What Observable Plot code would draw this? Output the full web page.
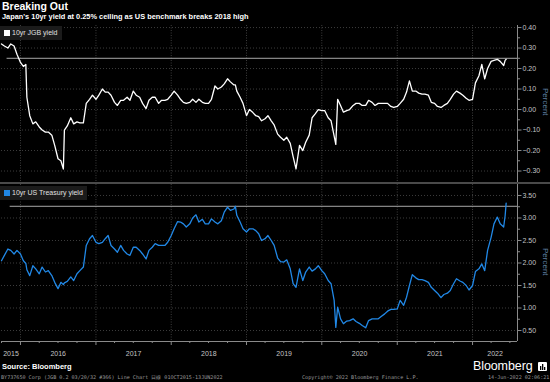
<!DOCTYPE html>
<html>
<head>
<meta charset="utf-8">
<script src="https://cdn.jsdelivr.net/npm/d3@7"></script>
<script src="https://cdn.jsdelivr.net/npm/@observablehq/plot@0.6"></script>
<style>
  html, body { margin:0; padding:0; background:#000; }
  #wrap { position:relative; width:550px; height:382px; background:#000; overflow:hidden; font-family:"Liberation Sans", Arial, sans-serif; }
  .abs { position:absolute; white-space:nowrap; }
  .title { left:2px; top:0px; font-weight:bold; font-size:10.5px; color:#fff; }
  .subtitle { left:2px; top:11.5px; font-weight:bold; font-size:7.4px; color:#fff; }
  .legend { background:#1b1b1b; color:#e0e0e0; font-size:7px; height:14px; line-height:14px; padding-left:12px; padding-right:4px; }
  .legend .sw { position:absolute; left:4px; top:4px; width:6px; height:6px; }
  .percent { writing-mode:vertical-rl; font-size:8px; color:#5f7fa0; }
  .sep { left:0; top:182px; width:550px; height:2px; background:#4a4a4a; }
  .source { left:2px; top:362px; font-weight:bold; font-size:7.5px; color:#fff; }
  .logo { left:473px; top:359px; font-size:12.5px; color:#fff; letter-spacing:-0.1px; }
  .fine { top:374px; font-family:"DejaVu Sans Mono", monospace; font-size:5.1px; color:#9a9a9a; }
</style>
</head>
<body>
<div id="wrap">
  <div class="abs title">Breaking Out</div>
  <div class="abs subtitle">Japan's 10yr yield at 0.25% ceiling as US benchmark breaks 2018 high</div>
  <div id="top" class="abs" style="left:0;top:25px;"></div>
  <div class="abs sep"></div>
  <div id="bottom" class="abs" style="left:0;top:184px;"></div>
  <div class="abs legend" style="left:0;top:26px;"><span class="sw" style="background:#fff"></span>10yr JGB yield</div>
  <div class="abs legend" style="left:0;top:186px;"><span class="sw" style="background:#2188e6"></span>10yr US Treasury yield</div>
  <div class="abs percent" style="left:541px;top:88px;">Percent</div>
  <div class="abs percent" style="left:541px;top:248px;">Percent</div>
  <div class="abs source">Source: Bloomberg</div>
  <div class="abs logo">Bloomberg</div>
  <svg class="abs" style="left:538px;top:362px;" width="9" height="9"><rect width="9" height="9" rx="1" fill="#fff"/><rect x="2" y="4" width="1.3" height="4" fill="#000"/><rect x="4" y="2" width="1.3" height="6" fill="#000"/><rect x="6" y="5" width="1.3" height="3" fill="#000"/></svg>
  <div class="abs fine" style="left:1px;">BY737650 Corp (JGB 0.2 03/20/32 #366) Line Chart  日線 01OCT2015-13JUN2022</div>
  <div class="abs fine" style="left:302px;">Copyright© 2022 Bloomberg Finance L.P.</div>
  <div class="abs fine" style="left:488px;">14-Jun-2022 02:06:21</div>
</div>
<script>
// ---- Data ----
const dates = [
"2015-10-01","2015-10-15","2015-11-01","2015-11-15","2015-12-01","2015-12-15",
"2016-01-01","2016-01-15","2016-01-27","2016-02-01","2016-02-15","2016-03-01","2016-03-15","2016-04-01","2016-04-15","2016-05-01","2016-05-15","2016-06-01","2016-06-15","2016-07-01","2016-07-15","2016-07-27","2016-08-01","2016-08-15","2016-09-01","2016-09-15","2016-10-01","2016-10-15","2016-11-01","2016-11-15","2016-12-01","2016-12-15",
"2017-01-01","2017-01-15","2017-02-01","2017-02-15","2017-03-01","2017-03-15","2017-04-01","2017-04-15","2017-05-01","2017-05-15","2017-06-01","2017-06-15","2017-07-01","2017-07-15","2017-08-01","2017-08-15","2017-09-01","2017-09-15","2017-10-01","2017-10-15","2017-11-01","2017-11-15","2017-12-01","2017-12-15",
"2018-01-01","2018-01-15","2018-02-01","2018-02-15","2018-03-01","2018-03-15","2018-04-01","2018-04-15","2018-05-01","2018-05-15","2018-06-01","2018-06-15","2018-07-01","2018-07-15","2018-08-01","2018-08-15","2018-09-01","2018-09-15","2018-10-01","2018-10-15","2018-11-01","2018-11-08","2018-11-15","2018-12-01","2018-12-15",
"2019-01-01","2019-01-15","2019-02-01","2019-02-15","2019-03-01","2019-03-15","2019-04-01","2019-04-15","2019-05-01","2019-05-15","2019-06-01","2019-06-15","2019-07-01","2019-07-15","2019-08-01","2019-08-15","2019-08-29","2019-09-15","2019-10-01","2019-10-15","2019-11-01","2019-11-15","2019-12-01","2019-12-15",
"2020-01-01","2020-01-15","2020-02-01","2020-02-15","2020-03-01","2020-03-09","2020-03-18","2020-04-01","2020-04-15","2020-05-01","2020-05-15","2020-06-01","2020-06-15","2020-07-01","2020-07-15","2020-08-01","2020-08-15","2020-09-01","2020-09-15","2020-10-01","2020-10-15","2020-11-01","2020-11-15","2020-12-01","2020-12-15",
"2021-01-01","2021-01-15","2021-02-01","2021-02-15","2021-03-01","2021-03-15","2021-04-01","2021-04-15","2021-05-01","2021-05-15","2021-06-01","2021-06-15","2021-07-01","2021-07-15","2021-08-01","2021-08-15","2021-09-01","2021-09-15","2021-10-01","2021-10-15","2021-11-01","2021-11-15","2021-12-01","2021-12-15",
"2022-01-01","2022-01-15","2022-02-01","2022-02-15","2022-03-01","2022-03-15","2022-04-01","2022-04-15","2022-05-01","2022-05-15","2022-06-01","2022-06-08","2022-06-13"
];
const jgbYield = [
0.32,0.31,0.30,0.32,0.31,0.27,
0.23,0.21,0.22,0.06,-0.03,-0.07,-0.06,-0.085,-0.10,-0.11,-0.11,-0.125,-0.175,-0.24,-0.25,-0.29,-0.10,-0.08,-0.04,-0.07,-0.06,-0.065,-0.065,0.03,0.05,0.07,
0.05,0.07,0.10,0.085,0.085,0.07,0.035,0.02,0.045,0.045,0.06,0.045,0.09,0.07,0.06,0.03,0.005,0.045,0.06,0.06,0.03,0.045,0.045,0.05,
0.07,0.09,0.07,0.05,0.035,0.03,0.035,0.05,0.035,0.05,0.035,0.03,0.03,0.05,0.115,0.10,0.11,0.125,0.15,0.135,0.12,0.12,0.09,0.06,0.03,
-0.03,0.00,-0.015,-0.03,-0.035,-0.055,-0.045,-0.03,-0.055,-0.075,-0.12,-0.135,-0.15,-0.135,-0.165,-0.23,-0.29,-0.175,-0.20,-0.16,-0.125,-0.04,-0.02,0.00,
-0.005,-0.005,-0.04,-0.055,-0.13,-0.17,0.05,0.02,-0.013,-0.005,0.00,0.02,0.03,0.03,0.02,0.02,0.045,0.035,0.02,0.03,0.03,0.03,0.03,0.015,0.01,
0.015,0.03,0.05,0.085,0.14,0.09,0.09,0.08,0.075,0.075,0.07,0.035,0.03,0.015,0.01,0.02,0.03,0.05,0.075,0.09,0.08,0.07,0.055,0.045,
0.05,0.13,0.165,0.22,0.15,0.20,0.235,0.24,0.245,0.235,0.215,0.24,0.245
];
const ustYield = [
2.05,2.17,2.31,2.28,2.20,2.28,
2.20,2.05,1.99,1.85,1.72,1.94,1.87,1.76,1.91,1.80,1.83,1.72,1.57,1.43,1.57,1.52,1.56,1.59,1.69,1.61,1.76,1.83,1.91,2.39,2.54,2.61,
2.46,2.43,2.46,2.54,2.61,2.39,2.31,2.24,2.39,2.28,2.20,2.17,2.35,2.35,2.28,2.20,2.09,2.28,2.35,2.43,2.39,2.39,2.39,2.46,
2.61,2.76,2.92,2.91,2.87,2.80,2.87,3.00,3.07,2.91,2.97,2.87,2.87,2.98,2.91,2.87,2.94,3.13,3.24,3.17,3.20,3.26,3.06,2.91,2.76,
2.69,2.76,2.76,2.72,2.65,2.50,2.54,2.61,2.50,2.39,2.11,2.03,2.02,2.07,1.87,1.54,1.46,1.87,1.61,1.80,1.91,1.82,1.87,1.94,
1.83,1.76,1.61,1.54,1.17,0.57,1.02,0.76,0.65,0.71,0.72,0.76,0.70,0.66,0.61,0.56,0.72,0.76,0.76,0.76,0.81,0.87,0.93,0.97,0.97,
0.98,1.17,1.06,1.24,1.50,1.74,1.67,1.63,1.63,1.61,1.57,1.46,1.39,1.33,1.23,1.30,1.33,1.39,1.54,1.65,1.60,1.57,1.50,1.40,
1.50,1.81,1.87,1.98,1.83,2.28,2.57,2.87,3.02,2.87,2.80,3.05,3.33
];
const jgbTicks = [-0.3,-0.2,-0.1,0,0.1,0.2,0.3,0.4];
const ustTicks = [0.5,1,1.5,2,2.5,3,3.5];
const yearTickLabels = ["2015","2016","2017","2018","2019","2020","2021","2022"];
const jgbCeiling = 0.25;      // BOJ ceiling line
const ust2018High = 3.26;     // 2018 high line
const refStart = ["2015-10-28","2015-11-12"];

// ---- Scales setup ----
const xDomain = [new Date("2015-10-01"), new Date("2022-08-07")];
const topDomain = [-0.356, 0.41];
const botDomain = [0.256, 3.744];
const yearStarts = yearTickLabels.slice(1).map(y => new Date(`${y}-01-01`));
const quarterTicks = d3.utcMonth.every(3).range(xDomain[0], xDomain[1]).filter(d => d.getUTCMonth() !== 0);
const yearMids = yearTickLabels.map(y => {
  const a = new Date(Math.max(+new Date(`${y}-01-01`), +xDomain[0]));
  const b = new Date(Math.min(+new Date(`${+y+1}-01-01`), +xDomain[1]));
  return new Date((+a + +b) / 2);
});
const half = (t) => t.slice(0, -1).map((v, i) => (v + t[i+1]) / 2);

const jgbData = dates.map((d, i) => ({date: new Date(d), v: jgbYield[i]}));
const ustData = dates.map((d, i) => ({date: new Date(d), v: ustYield[i]}));

const gridColor = "#3c3c3c";
const axisColor = "#8a8a8a";
const labelColor = "#c4c4c4";
const style = {background:"transparent", color:labelColor, fontSize:"7px", fontFamily:"'Liberation Sans', Arial, sans-serif", overflow:"visible"};

const topChart = Plot.plot({
  width: 550, height: 157, marginLeft: 1, marginRight: 33, marginTop: 0, marginBottom: 0,
  style,
  x: {type: "utc", domain: xDomain, axis: null},
  y: {domain: topDomain, axis: null},
  marks: [
    Plot.gridX(yearStarts, {stroke: gridColor, strokeOpacity: 1, strokeDasharray: "1,1.5"}),
    Plot.gridY(jgbTicks, {stroke: gridColor, strokeOpacity: 1, strokeDasharray: "1,2"}),
    Plot.ruleY([{v: jgbCeiling, s: new Date(refStart[0]), e: xDomain[1]}], {y: "v", x1: "s", x2: "e", stroke: "#a8a8a8", strokeWidth: 1}),
    Plot.lineY(jgbData, {x: "date", y: "v", stroke: "#ffffff", strokeWidth: 1.3}),
    Plot.ruleX([xDomain[1]], {stroke: axisColor}),
    Plot.axisY(half(jgbTicks), {anchor: "right", label: null, tickSize: 2, tickFormat: () => "", stroke: axisColor}),
    Plot.axisY(jgbTicks, {anchor: "right", label: null, tickSize: 3.5, tickPadding: 1.5, tickFormat: d3.format(".2f"), stroke: axisColor, fill: labelColor})
  ]
});
document.getElementById("top").appendChild(topChart);

const botChart = Plot.plot({
  width: 550, height: 179, marginLeft: 1, marginRight: 33, marginTop: 0, marginBottom: 22,
  style,
  x: {type: "utc", domain: xDomain, axis: null},
  y: {domain: botDomain, axis: null},
  marks: [
    Plot.gridX(yearStarts, {stroke: gridColor, strokeOpacity: 1, strokeDasharray: "1,1.5"}),
    Plot.gridY(ustTicks, {stroke: gridColor, strokeOpacity: 1, strokeDasharray: "1,2"}),
    Plot.ruleY([{v: ust2018High, s: new Date(refStart[1]), e: xDomain[1]}], {y: "v", x1: "s", x2: "e", stroke: "#a8a8a8", strokeWidth: 1}),
    Plot.lineY(ustData, {x: "date", y: "v", stroke: "#2188e6", strokeWidth: 1.3}),
    Plot.ruleX([xDomain[1]], {stroke: axisColor}),
    Plot.ruleY([botDomain[0]], {stroke: axisColor}),
    Plot.axisY(half(ustTicks), {anchor: "right", label: null, tickSize: 2, tickFormat: () => "", stroke: axisColor}),
    Plot.axisY(ustTicks, {anchor: "right", label: null, tickSize: 3.5, tickPadding: 1.5, tickFormat: d3.format(".2f"), stroke: axisColor, fill: labelColor}),
    Plot.axisX(quarterTicks, {anchor: "bottom", label: null, tickSize: 2, tickFormat: () => "", stroke: axisColor}),
    Plot.axisX(yearStarts, {anchor: "bottom", label: null, tickSize: 4, tickFormat: () => "", stroke: axisColor}),
    Plot.axisX(yearMids, {anchor: "bottom", label: null, tickSize: 0, tickPadding: 10, tickFormat: (d, i) => yearTickLabels[i], fill: labelColor})
  ]
});
document.getElementById("bottom").appendChild(botChart);
</script>
</body>
</html>
